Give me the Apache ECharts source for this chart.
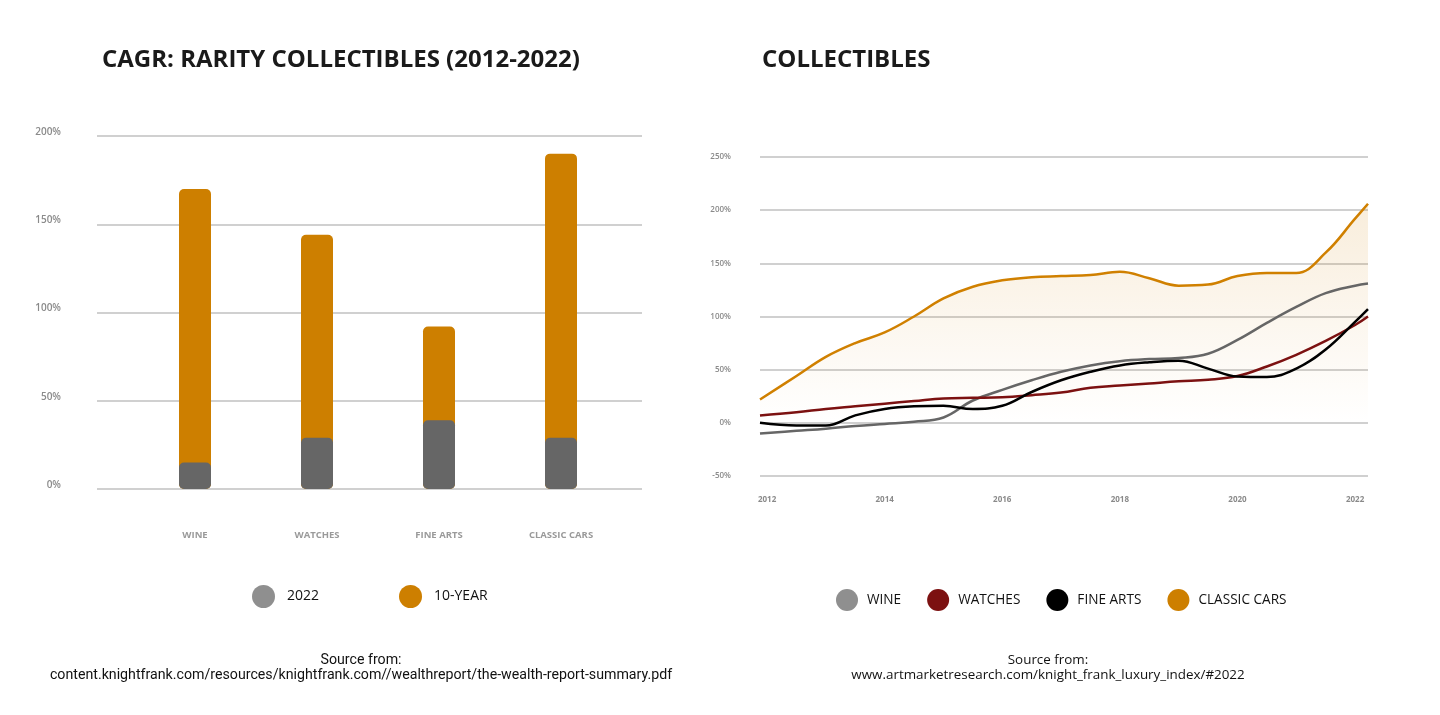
<!DOCTYPE html>
<html><head><meta charset="utf-8">
<script src="https://cdn.jsdelivr.net/npm/echarts@6/dist/echarts.min.js"></script>
<style>html,body{margin:0;padding:0;background:#fff}#c{width:1440px;height:715px}</style>
</head><body><div id="c"></div>
<script>
// ---- Left chart data (CAGR) ----
const barCategories = ['WINE', 'WATCHES', 'FINE ARTS', 'CLASSIC CARS'];
const tenYear = [170, 144, 92, 190];
const year2022 = [15, 29, 39, 29];

// ---- Right chart data (index %) ----
const years = [2011.88, 2012.5, 2013, 2013.5, 2014, 2014.5, 2015, 2015.5, 2016, 2016.5, 2017,
               2017.5, 2018, 2018.5, 2019, 2019.5, 2020, 2020.5, 2021, 2021.5, 2022, 2022.22];
const wine        = [-10, -7.5, -5.5, -3, -1, 1, 5, 21, 31, 40, 48, 54, 58, 60, 61, 65, 78, 94, 109, 122, 129, 131];
const watches     = [7, 10, 13, 15.5, 18, 20.5, 23, 23.5, 24, 26, 28.5, 33, 35, 37, 39, 40.5, 44, 53, 64, 77, 92, 100];
const fineArts    = [0, -2.5, -2.5, 7, 13, 15.5, 16, 13, 16, 29, 40, 48, 54, 57, 58.5, 51, 43.5, 43, 51, 69, 95, 107];
const classicCars = [22, 44, 62, 75, 85, 100, 117, 128, 134, 137, 138, 139, 142, 136, 129, 130, 138, 141, 141, 160, 192, 206];
const yearLabels = [2012, 2014, 2016, 2018, 2020, 2022];

const pair = arr => years.map((y, i) => [y, arr[i]]);
const FONT = 'Open Sans';

const chart = echarts.init(document.getElementById('c'));
chart.setOption({
  animation: false,
  backgroundColor: '#fff',
  title: [
    { text: 'CAGR: RARITY COLLECTIBLES (2012-2022)', left: 102, top: 48, padding: 0,
      textStyle: { fontFamily: FONT, fontSize: 24, fontWeight: 'bold', color: '#1a1a1a' } },
    { text: 'COLLECTIBLES', left: 762, top: 48, padding: 0,
      textStyle: { fontFamily: FONT, fontSize: 24, fontWeight: 'bold', color: '#1a1a1a' } },
    { text: 'Source from:\ncontent.knightfrank.com/resources/knightfrank.com//wealthreport/the-wealth-report-summary.pdf',
      left: 361, top: 653, textAlign: 'center', padding: 0,
      textStyle: { fontFamily: 'Roboto', fontSize: 14.2, fontWeight: 'normal', color: '#111', lineHeight: 15, align: 'center' } },
    { text: 'Source from:\nwww.artmarketresearch.com/knight_frank_luxury_index/#2022',
      left: 1048, top: 653, textAlign: 'center', padding: 0,
      textStyle: { fontFamily: FONT, fontSize: 13.4, fontWeight: 'normal', color: '#111', lineHeight: 15, align: 'center' } }
  ],
  legend: [
    { data: [{ name: '2022', itemStyle: { color: '#8f8f8f' } }, { name: '10-YEAR', itemStyle: { color: '#cd7f00' } }],
      left: 252, top: 585, padding: 0, icon: 'circle', itemWidth: 23, itemHeight: 23, itemGap: 80,
      selectedMode: false,
      textStyle: { fontFamily: FONT, fontSize: 14, color: '#111', padding: [0, 0, 0, 7] } },
    { data: [{ name: 'WINE', itemStyle: { color: '#8f8f8f' } }, { name: 'WATCHES', itemStyle: { color: '#7c1111' } },
             { name: 'FINE ARTS', itemStyle: { color: '#000' } }, { name: 'CLASSIC CARS', itemStyle: { color: '#cd7f00' } }],
      left: 836, top: 589, padding: 0, icon: 'circle', itemWidth: 22, itemHeight: 22, itemGap: 26,
      selectedMode: false,
      textStyle: { fontFamily: FONT, fontSize: 13.6, color: '#111', padding: [0, 0, 0, 4] } }
  ],
  grid: [
    { left: 97, width: 545, top: 136, height: 353 },
    { left: 134, width: 488, top: 136, height: 353 },
    { left: 760, width: 608, top: 157, height: 319 }
  ],
  xAxis: [
    { gridIndex: 0, type: 'value', min: 0, max: 1, show: false },
    { gridIndex: 1, type: 'category', data: barCategories,
      axisLine: { show: false }, axisTick: { show: false },
      axisLabel: { margin: 41, fontFamily: FONT, fontSize: 9.5, fontWeight: 'bold', color: '#9a9a9a' } },
    { gridIndex: 2, type: 'value', min: 2011.88, max: 2022.22,
      axisLine: { show: false, onZero: false }, axisTick: { show: false }, splitLine: { show: false },
      axisLabel: { customValues: yearLabels, margin: 20, fontFamily: FONT, fontSize: 8, fontWeight: 'bold',
                   color: '#8a8a8a', formatter: v => String(Math.round(v)) } }
  ],
  yAxis: [
    { gridIndex: 0, type: 'value', min: 0, max: 200, interval: 50,
      axisLine: { show: false }, axisTick: { show: false },
      splitLine: { lineStyle: { color: '#c0c0c0', width: 1.5 } },
      axisLabel: { formatter: '{value}%', margin: 36, fontFamily: FONT, fontSize: 10, fontWeight: 600,
                   color: '#8a8a8a', verticalAlign: 'bottom', lineHeight: 8 } },
    { gridIndex: 1, type: 'value', min: 0, max: 200, show: false },
    { gridIndex: 2, type: 'value', min: -50, max: 250, interval: 50,
      axisLine: { show: false }, axisTick: { show: false },
      splitLine: { lineStyle: { color: '#c0c0c0', width: 1.5 } },
      axisLabel: { formatter: '{value}%', margin: 29, fontFamily: FONT, fontSize: 8, fontWeight: 600, color: '#8a8a8a' } }
  ],
  series: [
    { name: '10-YEAR', type: 'bar', xAxisIndex: 1, yAxisIndex: 1, data: tenYear, barWidth: 32, barGap: '-100%',
      itemStyle: { color: '#cd7f00', borderRadius: 5 } },
    { name: '2022', type: 'bar', xAxisIndex: 1, yAxisIndex: 1, data: year2022, barWidth: 32, barGap: '-100%',
      itemStyle: { color: '#666666', borderRadius: 5 } },
    { name: 'CLASSIC CARS', type: 'line', xAxisIndex: 2, yAxisIndex: 2, data: pair(classicCars), smooth: 0.4,
      showSymbol: false, lineStyle: { color: '#d08000', width: 2.5 }, itemStyle: { color: '#d08000' },
      areaStyle: { color: new echarts.graphic.LinearGradient(0, 0, 0, 1, [
        { offset: 0, color: 'rgba(208,128,0,0.2)' }, { offset: 1, color: 'rgba(208,128,0,0)' }]) } },
    { name: 'WINE', type: 'line', xAxisIndex: 2, yAxisIndex: 2, data: pair(wine), smooth: 0.4,
      showSymbol: false, lineStyle: { color: '#666666', width: 2.5 }, itemStyle: { color: '#666666' } },
    { name: 'WATCHES', type: 'line', xAxisIndex: 2, yAxisIndex: 2, data: pair(watches), smooth: 0.4,
      showSymbol: false, lineStyle: { color: '#7c1111', width: 2.5 }, itemStyle: { color: '#7c1111' } },
    { name: 'FINE ARTS', type: 'line', xAxisIndex: 2, yAxisIndex: 2, data: pair(fineArts), smooth: 0.4,
      showSymbol: false, lineStyle: { color: '#000', width: 2.5 }, itemStyle: { color: '#000' } }
  ]
});
</script></body></html>
